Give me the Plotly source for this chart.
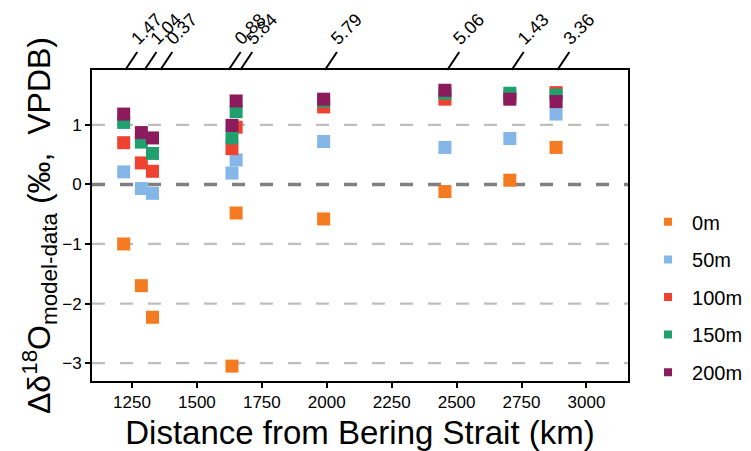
import plotly.graph_objects as go

# ---------------- data ----------------
distance_km = [1218, 1286, 1329, 1635, 1651, 1988, 2455, 2705, 2883]

depth_names = ["0m", "50m", "100m", "150m", "200m"]
d0m   = [-1.00, -1.70, -2.23, -3.05, -0.48, -0.58, -0.12, 0.07, 0.62]
d50m  = [0.21, -0.07, -0.15, 0.19, 0.41, 0.72, 0.62, 0.77, 1.18]
d100m = [0.70, 0.36, 0.22, 0.60, 0.96, 1.30, 1.43, 1.47, 1.54]
d150m = [1.04, 0.71, 0.52, 0.78, 1.22, 1.40, 1.53, 1.53, 1.50]
d200m = [1.18, 0.87, 0.78, 0.99, 1.40, 1.43, 1.58, 1.43, 1.39]
series = [d0m, d50m, d100m, d150m, d200m]
colors = ["#F47B20", "#84B7E8", "#EE4330", "#20A06E", "#8B1B5C"]

top_label_km = [1224, 1298, 1359, 1622, 1667, 1993, 2464, 2712, 2888]
top_labels = ["1.47", "1.04", "0.37", "0.88", "5.84", "5.79", "5.06", "1.43", "3.36"]

x_ticks = [1250, 1500, 1750, 2000, 2250, 2500, 2750, 3000]
y_ticks = [-3, -2, -1, 0, 1]

FONT = "Arial, Liberation Sans, sans-serif"
DASH = "13px,15px"

fig = go.Figure()

# data markers
for name, vals, col in zip(depth_names, series, colors):
    fig.add_trace(go.Scatter(
        x=distance_km, y=vals, mode="markers", name=name,
        legendgroup=name, showlegend=False,
        marker=dict(symbol="square", size=13, color=col, line=dict(width=0)),
    ))

# legend entries (smaller squares)
for name, col in zip(depth_names, colors):
    fig.add_trace(go.Scatter(
        x=[None], y=[None], mode="markers", name=name, legendgroup=name,
        marker=dict(symbol="square", size=8, color=col, line=dict(width=0)),
    ))

# dummy trace for the top axis
fig.add_trace(go.Scatter(x=top_label_km, y=[None] * len(top_label_km), xaxis="x2",
                         mode="markers", showlegend=False, hoverinfo="skip"))

shapes = []
# slanted top tick lines
for lx in top_label_km:
    shapes.append(dict(type="line", xref="x", yref="paper", xsizemode="pixel",
                       ysizemode="pixel", xanchor=lx, yanchor=1,
                       x0=0, x1=12, y0=0, y1=18,
                       line=dict(color="black", width=2)))
# dashed horizontal gridlines
for gy in y_ticks:
    if gy == 0:
        shapes.append(dict(type="line", xref="paper", x0=0, x1=1, yref="y", y0=gy, y1=gy,
                           layer="below", line=dict(color="#808080", width=3.5, dash=DASH)))
    else:
        shapes.append(dict(type="line", xref="paper", x0=0, x1=1, yref="y", y0=gy, y1=gy,
                           layer="below", line=dict(color="#BEBEBE", width=2.2, dash=DASH)))

x_range = [1096, 3160]

# page body has an 8px default margin -> figure is 8px smaller so it fits the window
fig.update_layout(
    width=743, height=443,
    margin=dict(l=84, r=123, t=62, b=70, autoexpand=False),
    paper_bgcolor="white", plot_bgcolor="white",
    font=dict(family=FONT, color="black", size=17),
    shapes=shapes,
    showlegend=True,
    legend=dict(x=1.0299, y=0.5746, xanchor="left", yanchor="top",
                font=dict(size=20, family=FONT), tracegroupgap=8.6, itemwidth=38,
                bgcolor="rgba(0,0,0,0)"),
    xaxis=dict(range=x_range, tickvals=x_ticks, ticks="outside", ticklen=5, tickwidth=2,
               tickcolor="black", showline=True, linecolor="black", linewidth=2,
               mirror=True, showgrid=False, zeroline=False, automargin=False,
               tickfont=dict(size=17),
               title=dict(text="Distance from Bering Strait (km)",
                          font=dict(size=33), standoff=13)),
    xaxis2=dict(range=x_range, overlaying="x", side="top", anchor="y",
                tickvals=top_label_km, ticktext=top_labels, tickangle=-45,
                ticks="", showline=False, showgrid=False, zeroline=False,
                automargin=False,
                tickfont=dict(size=18), ticklabelstandoff=17, ticklabelshift=7),
    yaxis=dict(range=[-3.30, 1.92], tickvals=y_ticks, ticks="outside", ticklen=5,
               tickwidth=2, tickcolor="black", showline=True, linecolor="black",
               linewidth=2, mirror=True, zeroline=False, showgrid=False,
               automargin=False,
               tickfont=dict(size=17),
               title=dict(text="Δδ<sup>18</sup>O<sub>model-data</sub> (‰,  VPDB)",
                          font=dict(size=32), standoff=1)),
)

fig.write_html("out.html")
